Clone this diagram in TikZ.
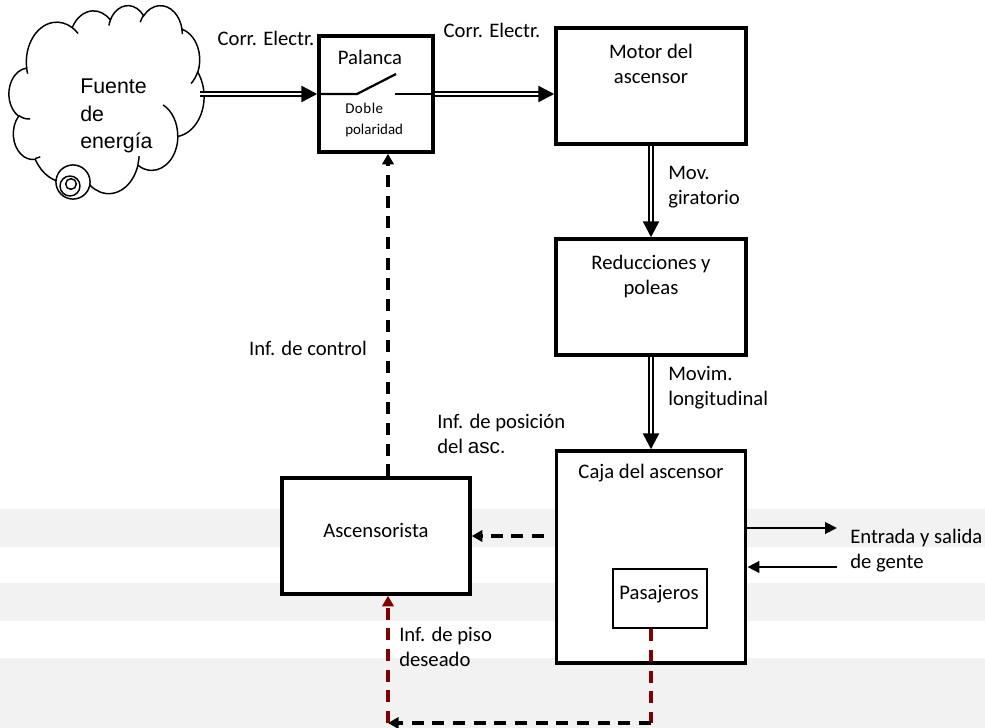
\documentclass[tikz,border=0pt]{standalone}
\usepackage{fontspec}
\setmainfont{Carlito}
\newfontfamily\arialfont{Liberation Sans}
\usetikzlibrary{arrows.meta}
\definecolor{bandgray}{RGB}{242,242,242}
\definecolor{darkred}{RGB}{128,0,0}
\begin{document}
\begin{tikzpicture}[x=0.75pt,y=-0.75pt,
  blk/.style={draw, line width=2.6pt, fill=white, inner sep=0pt},
  txt/.style={inner sep=0pt, font=\fontsize{15.5}{18.75}\selectfont},
  dbl/.style={line width=1.8pt, double distance=1.5pt,
    -{Triangle[length=12pt,width=12pt]}},
  dsh/.style={line width=2.4pt, dash pattern=on 9pt off 6.5pt,
    -{Triangle[length=8pt,width=8.5pt]}},
  rdsh/.style={line width=2.4pt, dash pattern=on 9pt off 6.5pt, darkred},
  sol/.style={line width=2.2pt, -{Triangle[length=9pt,width=8.5pt]}},
  puff/.style={line width=1.1pt}
]
\path[use as bounding box] (0,0) rectangle (985,728);

% background bands
\fill[bandgray] (0,509) rectangle (985,547);
\fill[bandgray] (0,583) rectangle (985,621);
\fill[bandgray] (0,658) rectangle (985,728);

% energy source: cloud outline and its inner folds
\begin{scope}[shift={(9,5)}, xscale=1.95, yscale=1.88]
\draw[puff, fill=white] (9.028,33.264)
  arc[start angle=-187.74, delta angle=128.12, x radius=15.632, y radius=21.273]
  arc[start angle=-152.02, delta angle=106.56, x radius=12.345, y radius=16.822]
  arc[start angle=-153.49, delta angle=116.17, x radius=10.104, y radius=13.762]
  arc[start angle=-139.79, delta angle=129.61, x radius=11.243, y radius=15.266]
  arc[start angle=-74.78,  delta angle=98.01,  x radius=12.345, y radius=16.836]
  arc[start angle=-37.50,  delta angle=119.35, x radius=15.683, y radius=21.343]
  arc[start angle=0.459,   delta angle=121.56, x radius=13.391, y radius=18.211]
  arc[start angle=16.87,   delta angle=129.31, x radius=15.630, y radius=21.331]
  arc[start angle=59.05,   delta angle=91.09,  x radius=17.870, y radius=24.405]
  arc[start angle=-276.71, delta angle=139.70, x radius=10.093, y radius=13.699]
  arc[start angle=-239.75, delta angle=143.88, x radius=10.058, y radius=13.762]
  -- cycle;
\draw[puff] (10.863,60.595) arc[start angle=85.57, delta angle=34.68, x radius=10.058, y radius=13.762];
\draw[puff] (16.037,80.785) arc[start angle=68.16, delta angle=15.13, x radius=10.093, y radius=13.699];
\draw[puff] (38.144,90.486) arc[start angle=146.18, delta angle=12.26, x radius=15.630, y radius=21.331];
\draw[puff] (66.729,80.442) arc[start angle=4.75, delta angle=12.12, x radius=15.630, y radius=21.331];
\draw[puff] (79.002,53.134) arc[start angle=-63.99, delta angle=64.45, x radius=13.391, y radius=18.211];
\draw[puff] (96.755,35.542) arc[start angle=23.23, delta angle=26.43, x radius=12.345, y radius=16.836];
\draw[puff] (88.713,12.560) arc[start angle=-10.18, delta angle=11.0, x radius=11.243, y radius=15.266];
\draw[puff] (67.310,9.148) arc[start angle=-156.35, delta angle=16.56, x radius=11.243, y radius=15.266];
\draw[puff] (51.252,10.926) arc[start angle=-167.73, delta angle=14.24, x radius=10.104, y radius=13.762];
\draw[puff] (32.407,12.019) arc[start angle=-59.62, delta angle=13.91, x radius=15.632, y radius=21.273];
\draw[puff] (9.553,36.549) arc[start angle=163.21, delta angle=9.05, x radius=15.632, y radius=21.273];
\end{scope}
\draw[puff, fill=white] (73,182) circle (12.8pt);
\draw[puff] (70,186) circle (7.5pt);
\draw[puff] (71,184) circle (4pt);
\node[minimum width=140pt, minimum height=138pt, inner sep=0pt] (src) at (106.5,100) {};
\node[anchor=west, align=left, inner sep=0pt,
      font=\arialfont\fontsize{16}{20.5}\selectfont] (srctxt) at (80,116)
      {Fuente\\de\\energía};

% blocks
\node[blk, minimum width=85.5pt, minimum height=87pt] (pal) at (376,94) {};
\node[blk, minimum width=142.5pt, minimum height=87pt] (motor) at (651,86) {};
\node[blk, minimum width=142.5pt, minimum height=87pt] (reduc) at (651,297) {};
\node[blk, minimum width=142pt, minimum height=159pt] (caja) at (651,557) {};
\node[blk, line width=1.9pt, minimum width=70.5pt, minimum height=44.25pt] (pasaj) at (660,598.5) {};
\node[blk, minimum width=141pt, minimum height=87pt] (asc) at (376,536) {};

% block texts
\node[txt] (paltxt) at (370,57) {Palanca};
\node[inner sep=0pt, anchor=west, align=left,
      font=\fontsize{11.2}{16}\selectfont] (poltxt) at (345,120)
      {D\kern0.4pt o\kern0.4pt b\kern0.4pt l\kern0.4pt e\\polaridad};
\node[txt, align=center] (motortxt) at (651,64) {Motor del\\ascensor};
\node[txt, align=center] (reductxt) at (651,276) {Reducciones y\\poleas};
\node[txt] (cajatxt) at (651,473) {Caja del ascensor};
\node[txt] (pasajtxt) at (659,594) {Pasajeros};
\node[txt] (asctxt) at (376,530) {Ascensorista};

% lever switch
\draw[line width=1.7pt] (pal.west) -- (357,94) -- (396,74);
\draw[line width=1.7pt] (395,94) -- (pal.east);

% power and motion flows
\draw[dbl] (src.east |- pal.west) -- (pal.west);
\draw[dbl] (pal.east) -- (motor.west |- pal.east);
\draw[dbl] (motor.south) -- (reduc.north);
\draw[dbl] (reduc.south) -- (caja.north);

% information flows
\draw[dsh, shorten <=8pt] (caja.west |- asc.east) -- (asc.east);
\draw[dsh] ([xshift=9pt]asc.north) -- ([xshift=9pt]pal.south);

% people in and out
\coordinate (out1) at (837,528);
\coordinate (in1) at (837,567);
\draw[sol] (caja.east |- out1) -- (out1);
\draw[sol] (in1) -- (caja.east |- in1);

% desired floor information
\coordinate (c1) at (651,723);
\coordinate (c2) at (388,723);
\draw[rdsh] (pasaj.south -| c1) -- (c1);
\draw[dsh] (c1) -- (c2);
\draw[rdsh, -{Triangle[length=8pt,width=8.5pt]}] (c2) -- (asc.south -| c2);

% flow labels
\node[txt] (l1) at (266,38) {Corr. Electr.};
\node[txt] (l2) at (492,30) {Corr. Electr.};
\node[txt, anchor=west, align=left] (l3) at (668,187) {Mov.\\giratorio};
\node[txt, anchor=west, align=left] (l4) at (668,388) {Movim.\\longitudinal};
\node[txt] (l5) at (308,348) {Inf. de control};
\node[txt, anchor=west, align=left] (l6) at (437,434)
      {Inf. de posición\\del {\arialfont asc.}};
\node[txt, anchor=west, align=left] (l7) at (850,551) {Entrada y salida\\de gente};
\node[txt, anchor=west, align=left] (l8) at (399,647) {Inf. de piso\\deseado};
\end{tikzpicture}
\end{document}
